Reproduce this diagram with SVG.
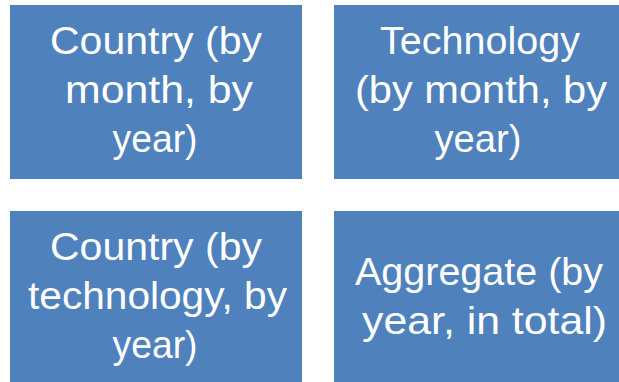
<svg xmlns="http://www.w3.org/2000/svg" width="619" height="382" viewBox="0 0 619 382">
<style>
.box{fill:#4F81BD;}
.t{fill:#FFFFFF;font-family:"Liberation Sans","Open Sans",Arial,sans-serif;font-size:39px;text-anchor:middle;}
</style>
<rect width="619" height="382" fill="#FFFFFF"/>
<g id="node-country-month-year">
<rect class="box" x="10" y="5" width="292" height="174"/>
<text class="t" x="156" y="54" textLength="212" lengthAdjust="spacingAndGlyphs">Country (by</text>
<text class="t" x="159" y="103" textLength="188" lengthAdjust="spacingAndGlyphs">month, by</text>
<text class="t" x="155" y="152" textLength="85" lengthAdjust="spacingAndGlyphs">year)</text>
</g>
<g id="node-technology-month-year">
<rect class="box" x="334" y="5" width="293" height="174"/>
<text class="t" x="480" y="54" textLength="200" lengthAdjust="spacingAndGlyphs">Technology</text>
<text class="t" x="481" y="103" textLength="252" lengthAdjust="spacingAndGlyphs">(by month, by</text>
<text class="t" x="478" y="152" textLength="87" lengthAdjust="spacingAndGlyphs">year)</text>
</g>
<g id="node-country-technology-year">
<rect class="box" x="10" y="211" width="292" height="174"/>
<text class="t" x="156" y="260" textLength="212" lengthAdjust="spacingAndGlyphs">Country (by</text>
<text class="t" x="157.5" y="309" textLength="259" lengthAdjust="spacingAndGlyphs">technology, by</text>
<text class="t" x="155" y="358" textLength="85" lengthAdjust="spacingAndGlyphs">year)</text>
</g>
<g id="node-aggregate">
<rect class="box" x="334" y="211" width="293" height="174"/>
<text class="t" x="479" y="284.5" textLength="248" lengthAdjust="spacingAndGlyphs">Aggregate (by</text>
<text class="t" x="484.5" y="333.5" textLength="245" lengthAdjust="spacingAndGlyphs">year, in total)</text>
</g>
<g id="connectors"></g>
</svg>
